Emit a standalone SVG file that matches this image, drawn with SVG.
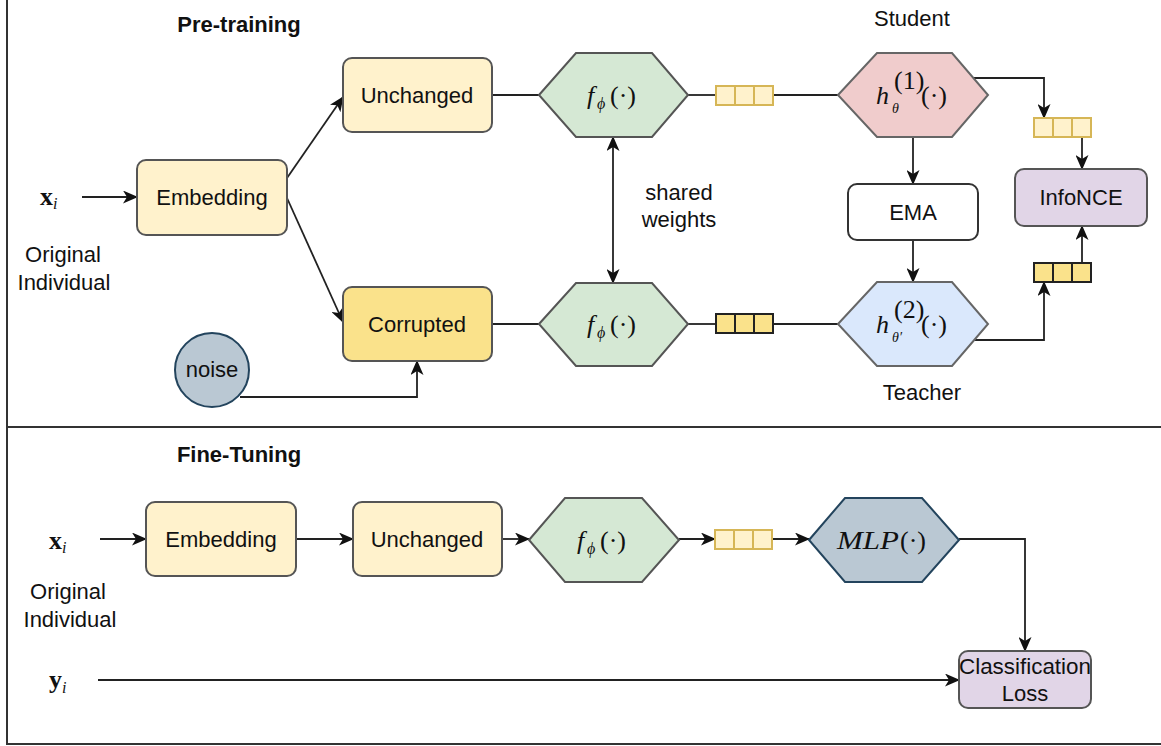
<svg xmlns="http://www.w3.org/2000/svg" width="1161" height="746" viewBox="0 0 1161 746">
<defs>
<marker id="arr" viewBox="0 0 15 13" markerWidth="15" markerHeight="13" refX="14" refY="6.5" orient="auto-start-reverse" markerUnits="userSpaceOnUse">
<path d="M0,0 L15,6.5 L0,13 L4,6.5 Z" fill="#111"/>
</marker>
<style>
.t{font-family:"Liberation Sans",Arial,sans-serif;font-size:22px;fill:#111;text-anchor:middle}
.b{font-family:"Liberation Sans",Arial,sans-serif;font-size:22px;font-weight:bold;fill:#111;text-anchor:middle}
.m{font-family:"Liberation Serif","DejaVu Serif",serif;font-size:26px;fill:#111}
.mi{font-family:"Liberation Serif","DejaVu Serif",serif;font-style:italic;fill:#111}
.box{stroke:#555;stroke-width:2}
.yl{fill:#fff2cc}
.yd{fill:#fae28b}
.grn{fill:#d5e8d4;stroke:#555;stroke-width:2}
.c{fill:none;stroke:#222;stroke-width:1.8}
.ca{fill:none;stroke:#222;stroke-width:1.8;marker-end:url(#arr)}
.vl{fill:#fff2cc;stroke:#d6b656;stroke-width:2}
.vd{fill:#fae28b;stroke:#222;stroke-width:2}
</style>
</defs>

<g id="frame">
<rect x="7" y="-3" width="1160" height="747" fill="none" stroke="#333" stroke-width="2"/>
<line x1="7" y1="427" x2="1161" y2="427" stroke="#333" stroke-width="2"/>
</g>

<g id="connectors">
<line class="ca" x1="82" y1="197" x2="137" y2="197"/>
<line class="ca" x1="287" y1="178" x2="343" y2="97"/>
<line class="ca" x1="287" y1="198" x2="343" y2="322"/>
<line class="c" x1="492" y1="95" x2="539" y2="95"/>
<line class="c" x1="688" y1="95" x2="716" y2="95"/>
<line class="c" x1="773" y1="95" x2="838" y2="95"/>
<line class="c" x1="492" y1="324" x2="539" y2="324"/>
<line class="c" x1="688" y1="324" x2="716" y2="324"/>
<line class="c" x1="773" y1="324" x2="838" y2="324"/>
<line class="ca" x1="613" y1="137" x2="613" y2="283" style="marker-start:url(#arr)"/>
<line class="ca" x1="913" y1="137" x2="913" y2="184"/>
<line class="ca" x1="913" y1="240" x2="913" y2="282"/>
<polyline class="ca" points="974,78 1044,78 1044,118"/>
<line class="ca" x1="1082" y1="137" x2="1082" y2="169"/>
<polyline class="ca" points="974,340 1044,340 1044,282"/>
<line class="ca" x1="1082" y1="263" x2="1082" y2="226"/>
<polyline class="ca" points="240,397 417,397 417,361"/>
<line class="ca" x1="100" y1="539" x2="146" y2="539"/>
<line class="ca" x1="296" y1="539" x2="353" y2="539"/>
<line class="ca" x1="502" y1="539" x2="529" y2="539"/>
<line class="ca" x1="679" y1="539" x2="715" y2="539"/>
<line class="ca" x1="773" y1="539" x2="809" y2="539"/>
<polyline class="ca" points="959,539 1025,539 1025,651"/>
<line class="ca" x1="98" y1="680" x2="959" y2="680"/>
</g>

<g id="titles">
<text class="b" x="239" y="32">Pre-training</text>
<text class="b" x="239" y="462">Fine-Tuning</text>
<text class="t" x="912" y="26">Student</text>
<text class="t" x="922" y="400">Teacher</text>
<text class="t" x="679" y="200">shared</text>
<text class="t" x="679" y="227">weights</text>
</g>

<g id="xi-top">
<text class="m" x="40" y="205" style="font-weight:bold">x</text>
<text class="mi" x="53" y="209" font-size="16">i</text>
<text class="t" x="63" y="262">Original</text>
<text class="t" x="64" y="290">Individual</text>
</g>

<g id="embedding-top">
<rect class="box yl" x="137" y="160" width="150" height="75" rx="9"/>
<text class="t" x="212" y="205">Embedding</text>
</g>

<g id="unchanged-top">
<rect class="box yl" x="343" y="58" width="149" height="74" rx="9"/>
<text class="t" x="417" y="103">Unchanged</text>
</g>

<g id="corrupted">
<rect class="box yd" x="343" y="287" width="149" height="74" rx="9"/>
<text class="t" x="417" y="332">Corrupted</text>
</g>

<g id="noise">
<circle cx="212" cy="370" r="37" fill="#bac8d3" stroke="#23445d" stroke-width="2"/>
<text class="t" x="212" y="377">noise</text>
</g>

<g id="f-top">
<polygon class="grn" points="539,95 576,53 652,53 688,95 652,137 576,137"/>
<text class="mi" x="587" y="104" font-size="26">f</text>
<text class="mi" x="597" y="109" font-size="16">ϕ</text>
<text class="m" x="610" y="104">(·)</text>
</g>

<g id="f-bottom">
<polygon class="grn" points="539,324 576,283 652,283 688,324 652,366 576,366"/>
<text class="mi" x="587" y="333" font-size="26">f</text>
<text class="mi" x="597" y="338" font-size="16">ϕ</text>
<text class="m" x="610" y="333">(·)</text>
</g>

<g id="vec-top">
<rect class="vl" x="716" y="86" width="19" height="19"/>
<rect class="vl" x="735" y="86" width="19" height="19"/>
<rect class="vl" x="754" y="86" width="19" height="19"/>
</g>

<g id="vec-bottom">
<rect class="vd" x="716" y="314" width="19" height="19"/>
<rect class="vd" x="735" y="314" width="19" height="19"/>
<rect class="vd" x="754" y="314" width="19" height="19"/>
</g>

<g id="student">
<polygon points="838,95 877,53 952,53 988,95 952,137 877,137" fill="#f0cccc" stroke="#666" stroke-width="2"/>
<text class="mi" x="876" y="104" font-size="26">h</text>
<text class="m" x="894" y="89" font-size="13">(1)</text>
<text class="mi" x="892" y="113" font-size="14">θ</text>
<text class="m" x="921" y="104">(·)</text>
</g>

<g id="ema">
<rect x="848" y="184" width="130" height="56" rx="9" fill="#fff" stroke="#333" stroke-width="2"/>
<text class="t" x="913" y="220">EMA</text>
</g>

<g id="teacher">
<polygon points="838,324 877,282 952,282 988,324 952,366 877,366" fill="#dae8fc" stroke="#666" stroke-width="2"/>
<text class="mi" x="876" y="333" font-size="26">h</text>
<text class="m" x="894" y="318" font-size="13">(2)</text>
<text class="mi" x="892" y="342" font-size="14">θ′</text>
<text class="m" x="921" y="333">(·)</text>
</g>

<g id="vec-student">
<rect class="vl" x="1034" y="118" width="19" height="19"/>
<rect class="vl" x="1053" y="118" width="19" height="19"/>
<rect class="vl" x="1072" y="118" width="19" height="19"/>
</g>

<g id="vec-teacher">
<rect class="vd" x="1034" y="263" width="19" height="19"/>
<rect class="vd" x="1053" y="263" width="19" height="19"/>
<rect class="vd" x="1072" y="263" width="19" height="19"/>
</g>

<g id="infonce">
<rect x="1015" y="169" width="132" height="57" rx="9" fill="#e1d5e7" stroke="#555" stroke-width="2"/>
<text class="t" x="1081" y="205">InfoNCE</text>
</g>

<g id="xi-bottom">
<text class="m" x="49" y="549" style="font-weight:bold">x</text>
<text class="mi" x="62" y="553" font-size="16">i</text>
<text class="t" x="68" y="599">Original</text>
<text class="t" x="70" y="627">Individual</text>
</g>

<g id="yi">
<text class="m" x="49" y="688" style="font-weight:bold">y</text>
<text class="mi" x="62" y="693" font-size="16">i</text>
</g>

<g id="embedding-bottom">
<rect class="box yl" x="146" y="502" width="150" height="74" rx="9"/>
<text class="t" x="221" y="547">Embedding</text>
</g>

<g id="unchanged-bottom">
<rect class="box yl" x="353" y="502" width="149" height="74" rx="9"/>
<text class="t" x="427" y="547">Unchanged</text>
</g>

<g id="f-ft">
<polygon class="grn" points="529,540 565,498 642,498 679,540 642,582 565,582"/>
<text class="mi" x="577" y="549" font-size="26">f</text>
<text class="mi" x="587" y="554" font-size="16">ϕ</text>
<text class="m" x="600" y="549">(·)</text>
</g>

<g id="vec-ft">
<rect class="vl" x="715" y="530" width="19" height="19"/>
<rect class="vl" x="734" y="530" width="19" height="19"/>
<rect class="vl" x="753" y="530" width="19" height="19"/>
</g>

<g id="mlp">
<polygon points="809,540 845,498 922,498 959,540 922,582 845,582" fill="#bac8d3" stroke="#23445d" stroke-width="2"/>
<text class="mi" x="837" y="549" font-size="26" textLength="62" lengthAdjust="spacingAndGlyphs">MLP</text>
<text class="m" x="900" y="549">(·)</text>
</g>

<g id="classification-loss">
<rect x="959" y="651" width="132" height="57" rx="9" fill="#e1d5e7" stroke="#555" stroke-width="2"/>
<text class="t" x="1025" y="674" textLength="132" lengthAdjust="spacingAndGlyphs">Classification</text>
<text class="t" x="1025" y="701">Loss</text>
</g>
</svg>
